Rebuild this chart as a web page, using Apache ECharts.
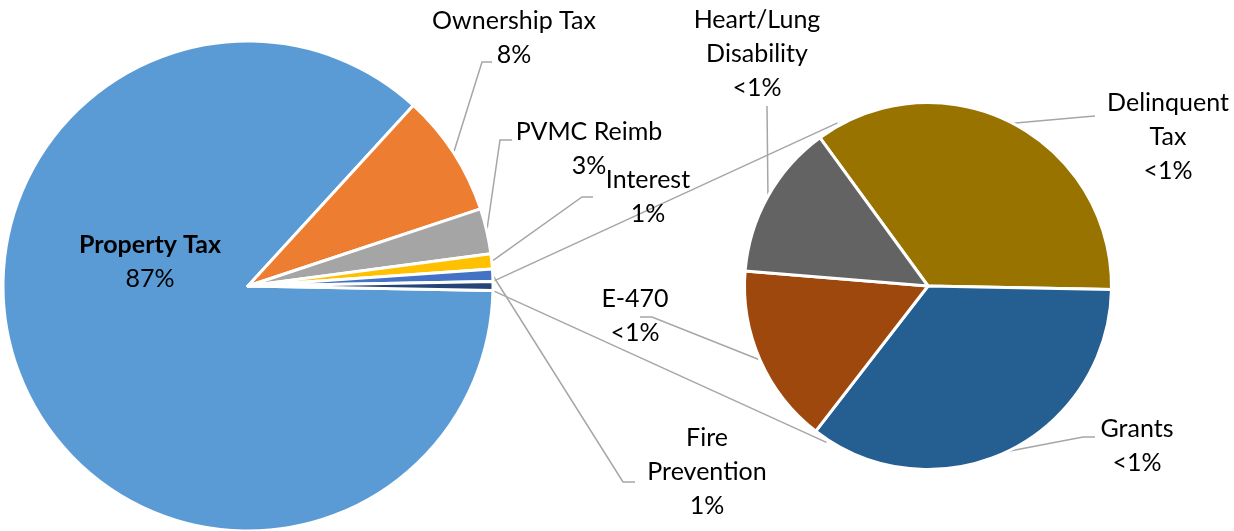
<!DOCTYPE html>
<html><head><meta charset="utf-8">
<script src="https://cdn.jsdelivr.net/npm/echarts@6/dist/echarts.min.js"></script>
<style>html,body{margin:0;padding:0;background:#fff}#c{width:1234px;height:531px}</style>
</head><body><div id="c"></div>
<script>
// ---- data (share of total revenue, %) ----
const mainCategories = ['Property Tax', 'Ownership Tax', 'PVMC Reimb', 'Interest', 'Fire Prevention'];
const mainValues = [86.5, 8.1, 3.0, 1.0, 0.8];
const otherCategories = ['Delinquent Tax', 'Grants', 'E-470', 'Heart/Lung Disability'];
const otherValues = [0.212, 0.211, 0.095, 0.082];
const otherLabel = 'Other';

// ---- styles ----
const mainColors = ['#5B9BD5', '#ED7D31', '#A5A5A5', '#FFC000', '#4472C4', '#264478'];
const otherColors = ['#997300', '#255E91', '#9E480E', '#636363'];
const FONT = 'Lato';
const FS = 25, LH = 34;
const leaderColor = '#A6A6A6';
const mainGeo = { cx: 248, cy: 286, r: 245 };
const subGeo = { cx: 928, cy: 286, r: 183.5, startAngle: 126.1 };
const connectorAngles = [119, -123];

// label placement: text block centre + leader elbow points (after slice-edge start)
const labelPlace = {
  'Property Tax':          { x: 150,  y: 262 },
  'Ownership Tax':         { x: 514,  y: 38,  pts: [[482, 62], [492, 62]] },
  'PVMC Reimb':            { x: 589,  y: 149, pts: [[500, 140], [512, 140]] },
  'Interest':              { x: 648,  y: 197, pts: [[582, 197], [593, 197]] },
  'Fire Prevention':       { x: 707,  y: 472, pts: [[623, 482], [635, 482]] },
  'Delinquent Tax':        { x: 1168, y: 137, pts: [[1083, 117], [1095, 116]] },
  'Grants':                { x: 1137, y: 446, pts: [[1083, 437], [1095, 437]] },
  'E-470':                 { x: 635,  y: 316, pts: [[652, 317], [640, 317]] },
  'Heart/Lung Disability': { x: 757,  y: 54,  pts: [[767, 106]] }
};
const wrapNames = ['Fire Prevention', 'Delinquent Tax', 'Heart/Lung Disability'];
const boldNames = ['Property Tax'];

const otherTotal = otherValues.reduce((a, b) => a + b, 0);
const grandTotal = mainValues.reduce((a, b) => a + b, 0) + otherTotal;
const mainStart = 360 - (otherTotal / 2) / grandTotal * 360;

function pctText(v) {
  const p = Math.round(v / grandTotal * 100);
  return p < 1 ? '<1%' : p + '%';
}
function nameText(n) {
  const t = wrapNames.indexOf(n) >= 0 ? n.replace(' ', '\n') : n;
  return boldNames.indexOf(n) >= 0 ? '{b|' + t + '}' : t;
}

const mainData = mainCategories.map((n, i) => ({
  name: n, value: mainValues[i], itemStyle: { color: mainColors[i] }
}));
mainData.push({ name: otherLabel, value: otherTotal, itemStyle: { color: mainColors[5] },
  label: { show: false }, labelLine: { show: false } });
mainData[0].label = { position: 'inside' };
mainData[0].labelLine = { show: false };

const subData = otherCategories.map((n, i) => ({
  name: n, value: otherValues[i], itemStyle: { color: otherColors[i] }
}));

function layoutFn(seriesData, geo, startDeg, total) {
  return function (params) {
    const name = seriesData[params.dataIndex].name;
    const p = labelPlace[name];
    if (!p) return {};
    const out = { x: p.x, y: p.y, align: 'center', verticalAlign: 'middle' };
    if (p.pts) {
      let acc = 0;
      for (let i = 0; i < params.dataIndex; i++) acc += seriesData[i].value;
      const mid = startDeg - (acc + seriesData[params.dataIndex].value / 2) / total * 360;
      const a = mid * Math.PI / 180;
      const start = [geo.cx + geo.r * Math.cos(a), geo.cy - geo.r * Math.sin(a)];
      out.labelLinePoints = [start].concat(p.pts);
    }
    return out;
  };
}

const labelCommon = {
  show: true, color: '#000', fontFamily: FONT, fontSize: FS, lineHeight: LH,
  align: 'center', position: 'outside',
  rich: { b: { fontFamily: FONT, fontSize: FS, lineHeight: LH, fontWeight: 'bold', color: '#000' } },
  formatter: p => nameText(p.name) + '\n' + pctText(p.value)
};

// connector lines between the split slice and the secondary pie
const halfA = (otherTotal / 2) / grandTotal * 360;
const connectors = [halfA, -halfA].map((deg, k) => {
  const a = deg * Math.PI / 180, b = connectorAngles[k] * Math.PI / 180;
  return {
    type: 'line', silent: true, z: 0,
    shape: {
      x1: mainGeo.cx + mainGeo.r * Math.cos(a), y1: mainGeo.cy - mainGeo.r * Math.sin(a),
      x2: subGeo.cx + (subGeo.r + 3) * Math.cos(b), y2: subGeo.cy - (subGeo.r + 3) * Math.sin(b)
    },
    style: { stroke: leaderColor, lineWidth: 1.5 }
  };
});

const chart = echarts.init(document.getElementById('c'), null, { renderer: 'canvas' });
chart.setOption({
  animation: false,
  backgroundColor: '#fff',
  graphic: connectors,
  series: [
    {
      type: 'pie', center: [mainGeo.cx, mainGeo.cy], radius: mainGeo.r,
      startAngle: mainStart, clockwise: true, avoidLabelOverlap: false,
      silent: true, z: 2,
      itemStyle: { borderColor: '#fff', borderWidth: 3 },
      label: labelCommon,
      labelLine: { show: true, smooth: false, lineStyle: { color: leaderColor, width: 1.5 } },
      labelLayout: layoutFn(mainData, mainGeo, mainStart, grandTotal),
      emphasis: { disabled: true },
      data: mainData
    },
    {
      type: 'pie', center: [subGeo.cx, subGeo.cy], radius: subGeo.r,
      startAngle: subGeo.startAngle, clockwise: true, avoidLabelOverlap: false,
      silent: true, z: 2,
      itemStyle: { borderColor: '#fff', borderWidth: 3 },
      label: labelCommon,
      labelLine: { show: true, smooth: false, lineStyle: { color: leaderColor, width: 1.5 } },
      labelLayout: layoutFn(subData, subGeo, subGeo.startAngle, otherTotal),
      emphasis: { disabled: true },
      data: subData
    }
  ]
});
</script>
</body></html>
